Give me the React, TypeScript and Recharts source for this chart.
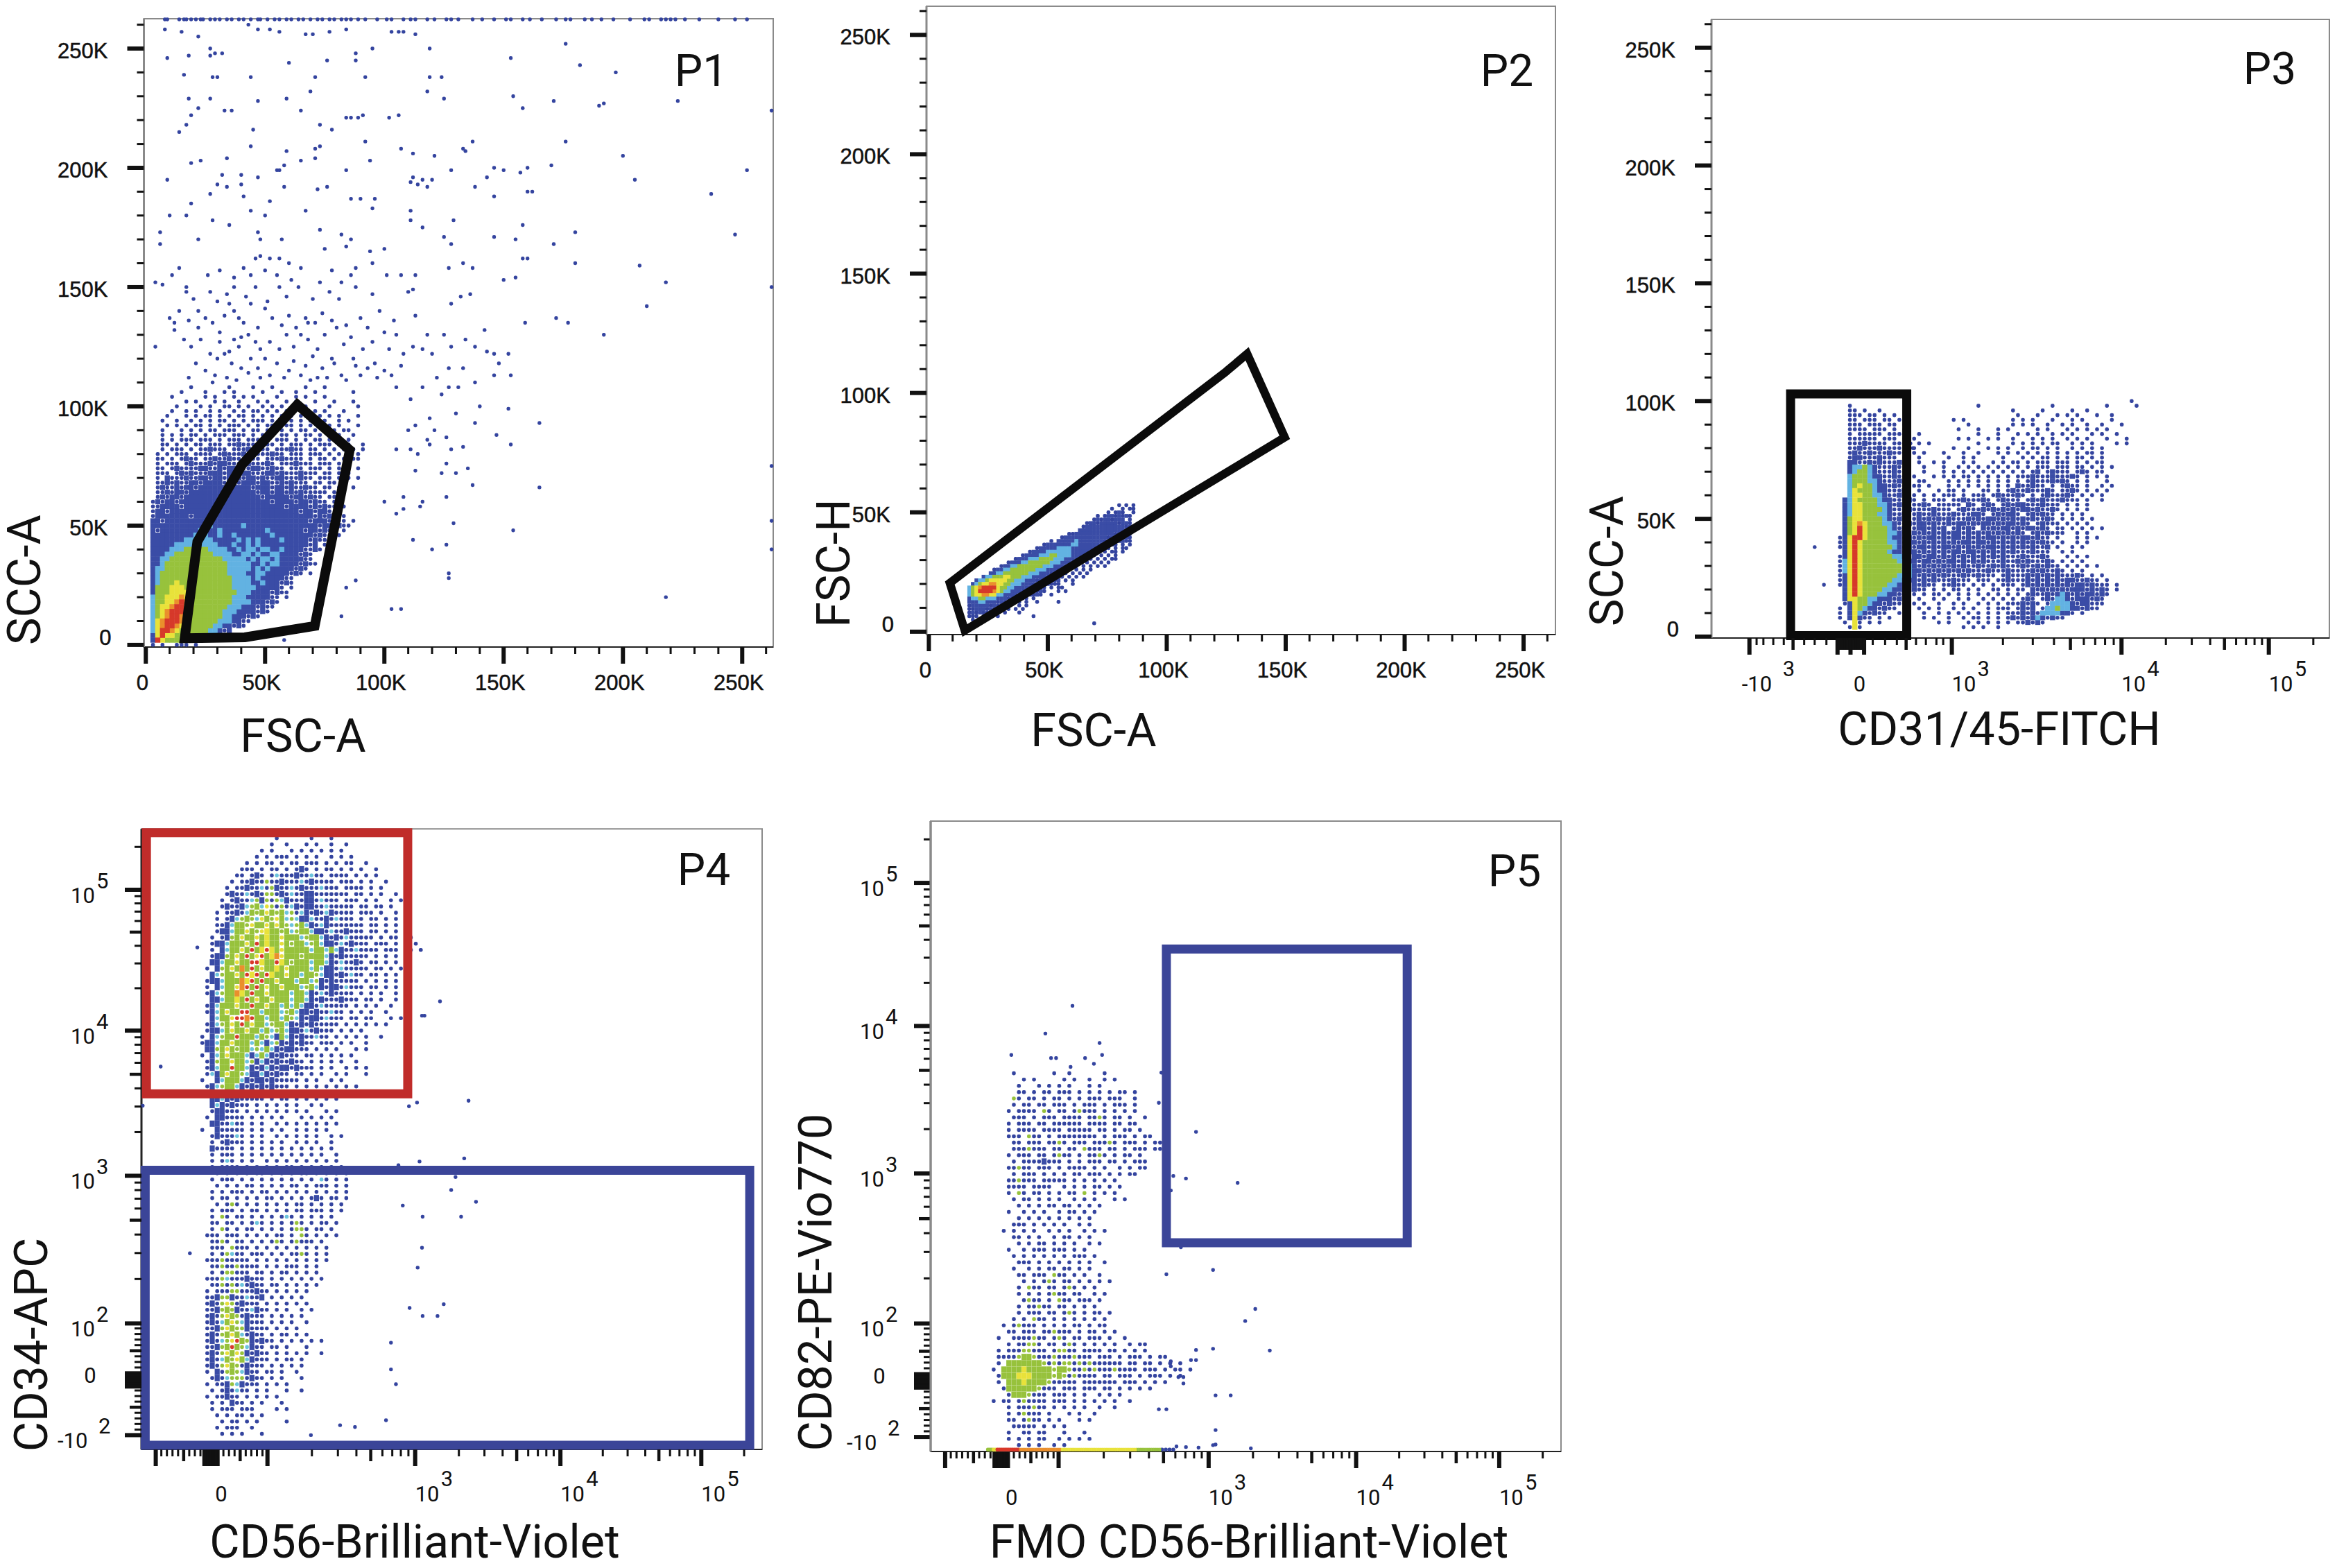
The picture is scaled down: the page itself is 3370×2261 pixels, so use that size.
/* ==========================================================================
   Flow cytometry gating panels P1 - P5
   Density rows are read off the picture: each character is one bin of the plot
   ':' c g y r = single events, B L G Y O R = filled density bins
   ========================================================================== */

import React from 'react';
import { ScatterChart, Scatter, XAxis, YAxis, ReferenceArea } from 'recharts';

const PAGE_W = 3370;
const PAGE_H = 2261;

const LEVELS: Record<string, { color: string; filled: boolean }> = {
  ':': { color: '#34449f', filled: false },
  c: { color: '#6cc3dc', filled: false },
  g: { color: '#97c23c', filled: false },
  y: { color: '#e6de3a', filled: false },
  r: { color: '#d8382a', filled: false },
  B: { color: '#3a4ca6', filled: true },
  L: { color: '#62b2e2', filled: true },
  G: { color: '#97c23c', filled: true },
  Y: { color: '#e8e23a', filled: true },
  O: { color: '#ea8f2c', filled: true },
  R: { color: '#d6392a', filled: true },
};

/* --- P1: FSC-A / SCC-A (K), x = 1 + 2j, first row y = 108, step 2 --------- */
const p1Rows = [
  '.........:.......:....:...:......:...:.....',
  '.......:....:...:.:.....:...:..:...:.......:',
  '.....:......:.:...:.:.:....:...:.:...:.....',
  '........:.:...:.:..:...:.:...:.:...:...:...:',
  '......:....:.:..::.:.:..:.:.:..:.:....:.....:',
  '.....:..:.:..:.:..:.:.::.:.:.::.:..:.:...:..',
  '....:...:.:.::.:.:.::.:.:.:.:.:.::..:.:.:...:',
  '...:..:..:.:.:.::.:.:.:::.:.:.:.:.:..:..:.:.',
  '....:.:.:.::.:.:.:::.:.:.::.:::.:.:.:.:.:...:',
  '...:...:.:.:.::.:::.:.::.::.:.:.::.:.:.:.::.',
  '...:.:.:.::.:.:::.:::.:.:::.::.:.::.:.:.:..:',
  '...:.:.:::.:::.:.:::.:::.:.:::.:.:.::.:.:.:.',
  '...::.:.:.::.:::.::B:::.:::.:.:::.:.:::.:.:..:',
  '...:.:::.:.::B:::.:::B:.::.:::B::.::.:.:.:.:.:',
  '..:.:.:::.::::.:B:::B:.:::B::.:::.:::.:.:.:.:',
  '..::.:.:B::.::B::B:::B::.:::B::::.:.::.:.:.::',
  '..:.:::.:B:::B:BB:::BB:::B:.:::B:::.:::.:.:.',
  '..::.:B::::BB::B:BB:::BB::B::.:::.:::.:.:.:.:',
  '..:::.:B:B:::BBB:BB:BB:::BB:B:::B:::.::.:.:.',
  '..:.B:::B::BB:BB:BBB:BB:B::BB:::B::.:::.:.:.:',
  '..::B:B::BB:BBBB:BB:BBB:BB::B:B:::.::.::.:.',
  '..:B::B:BB:BBBBBB:BBBB:BBB:BB:B::B::.::.:..:',
  '..::B:BB:BBBBBBBBBBBBBB:BB:BB:B:B:::::.:.:',
  '..:B:BB:BBBBBBBBBBBBBBBB:BBBBB:BB:B::.:::.',
  '.:B:BB:BBBBBBBBBBBBBBBBBBB:BBBB:BB:B::.:.',
  '.::BBBB:BBBBBBBBBBBBBBBBBBBBB:BBBB:B:B::.:',
  '.:BB:BBBBBBBBBBBBBBBBBBBBBBBBBBB:BB:BB:.:',
  '.:BBBBBBB:BBBBBBBBBBBBBBBBBBBBBBBBB:B:B:.:',
  '.BB:BBBBBBBBBBBBBBBBBBBBBBBBBBBBBB:BBB:B::.:',
  '.BBBBBBBBBBBBLBBBBBBLBBBBBBBBBBBBBBB:BB:B::',
  '.B:BBBBBBBBLBBBLBBBBBBBBBLBBBBBBB:BB:B::.:',
  '.BBBBBBBBBLLLBBLBBLBBBBBBBLBBBBBBBB:B::.:',
  '.BBBBBBBLLLLLLBBBBBLBLBLBBBBLBBBBB:B::.',
  '.BBBBBLLLLLLLLLBBBLBBLBLBBBBBBBBBB:B.:',
  '.BBBBLLLGGGGGLLLLBBLBLLBLLBBLBBBB::B:',
  '.BBBLLGGGGGGGGLLLLBBLLBLBBLLBBBB:B:',
  '.BBLLGGGGGGGGGGGLLLLLBLBLLBLBBBBB::.',
  '.BBLGGGGGGGGGGGGGLLLLLBBLBLLBBBB:B::',
  '.BLLGGGGGGGGGGGGGLLLLLBLBLBBBBB:B:.',
  '.BLGGGGGGGGGGGGGGLLLLBBLLBBBBB:B:.:',
  '.BLGGGGGGGGGGGGGGGLLLLBLBBBBB::.',
  '.BLGGGYGGGGGGGGGGGLLLLBBLBBB:B:.',
  '.BGGGYYYGGGGGGGGGGLLLLLBBBBB:.:',
  '.BGGGYYYYGGGGGGGGGGLLLBBBB:B::.',
  '.LGGYYYOYGGGGGGGGGLLLBBBBB::.:',
  '.LGGYYOROYGGGGGGGGLLLLBBB:B:.',
  '.LGYYORRYYGGGGGGGLLLBBB:B::',
  '.LGYORRRYGGGGGGGLLLBBBB:B:.',
  '.LGYORROYGGGGGGGLLBBB:B:',
  '.LYORRROYGGGGGGLLLBB::.',
  '.LYORROYGGGGGGLLBB:B:',
  '.LYRROYGGGGGGLLB:B',
  '.BYRYYGGGGGLLB:B:',
  '.BRYGGGGLLBB:',
  '.:.:..:::.:',
];

const p1Sparse = [
  [8,258],[15,257],[22,255],[43,260],[47,258],[52,258],[56,257],[67,256],[70,256],[77,257],[84,258],[103,257],[106,257],[108,257],[113,256],
  [18,247],[9,246],[27,250],[27,247],[29,248],[32,248],[60,244],[76,245],[88,248],[88,245],[95,250],[119,250],[176,252],[153,246],[182,243],[197,240],
  [16,239],[28,238],[30,238],[44,238],[71,238],[92,238],[119,238],[124,238],[69,232],[118,232],[18,229],[27,229],[47,228],[59,229],[125,229],[154,230],[171,228],[190,226],[192,227],[223,228],
  [22,225],[19,222],[33,224],[36,224],[65,224],[158,225],[84,221],[86,221],[89,221],[91,222],[102,221],[106,222],[14,215],[17,218],[45,216],[73,218],[78,216],[92,211],[176,211],[133,208],[137,211],
  [44,209],[59,207],[71,208],[73,209],[71,204],[107,208],[112,206],[121,205],[200,205],[19,202],[23,203],[34,204],[65,203],[94,203],[134,207],[58,201],[55,199],[56,199],[84,199],[128,199],[150,199],[146,200],[157,198],[160,200],[170,201],[252,199],
  [9,195],[32,197],[40,197],[47,196],[112,196],[116,195],[120,195],[143,196],[205,195],[30,193],[34,192],[40,193],[58,192],[72,191],[76,192],[111,194],[114,193],[118,192],[138,192],[160,190],[162,190],[237,189],
  [27,189],[41,188],[52,186],[86,187],[90,187],[96,187],[146,188],[19,185],[10,180],[17,180],[44,182],[50,180],[67,182],[95,183],[111,182],[28,178],[111,178],[129,178],[158,176],[180,173],[116,175],[35,176],[47,173],[57,170],[73,174],[82,172],
  [22,170],[48,170],[86,170],[6,173],[125,171],[146,171],[155,170],[247,172],[6,168],[84,167],[94,165],[171,168],[128,168],[100,166],[52,162],[46,162],[48,163],[56,162],[60,160],[75,166],[95,160],[133,160],[158,162],[160,162],[180,160],[207,159],
  [14,158],[88,158],[127,158],[101,155],[137,158],[4,152],[37,154],[11,155],[7,151],[55,155],[73,152],[86,155],[107,155],[113,155],[150,153],[155,154],[218,152],[17,150],[17,148],[37,150],[56,150],[95,147],[110,148],[112,149],[132,146],[136,147],[210,142],
  [14,140],[22,140],[35,143],[10,137],[12,135],[25,137],[33,138],[41,135],[67,137],[68,135],[47,133],[53,137],[172,137],[177,135],[159,135],[142,132],[128,143],[134,128],[192,130],[16,128],[37,128],[40,129],[46,127],[65,130],[80,133],[100,131],[105,130],[118,130],[125,130],[116,124],[138,125],[128,125],[4,125],
  [143,123],[146,122],[152,122],[30,120],[33,122],[50,120],[70,121],[78,120],[87,120],[112,125],[120,122],[88,117],[96,118],[127,116],[133,116],[148,118],[25,115],[40,116],[60,115],[72,112],[82,113],[103,113],[122,112],[146,113],[153,113],[34,112],[48,112],
  [116,108],[127,108],[131,108],[138,110],[124,105],[111,103],[105,108],[152,99],[140,100],[130,97],[119,95],[113,92],[121,90],[138,93],[165,93],[147,88],[153,84],[126,87],[119,84],[110,90],[118,86],[128,82],[133,83],[111,82],[114,80],[105,82],
  [126,76],[130,72],[135,74],[113,73],[124,72],[137,67],[165,66],[126,62],[108,62],[100,60],[108,57],[116,60],[105,55],[115,58],[129,51],[154,48],[112,44],[126,42],[127,28],[127,30],[218,20],[107,15],[103,15],[120,40],[88,27],[84,24],[82,12],
  [262.3,224],[262.3,150],[262.3,75],[262.3,52],[262.3,40],[58,2],
  [18,112],[21,118],[28,110],[29,113],[36,118],[38,111],[43,114],[44,120],[47,116],[52,113],[55,118],[58,112],[62,119],[65,113],[67,117],[69,111],[74,116],[76,112],[79,118],[84,111],[90,113],[93,116],[97,112],[100,115],[107,117],[19,125],[23,128],[27,122],[31,127],[35,123],[39,125],[43,130],[48,124],[52,127],[56,124],[59,130],[62,125],[68,128],[72,124],[75,130],[83,126],[86,129],[91,124],[95,127],[102,124],[108,122],
  [12,132],[18,136],[22,133],[28,135],[31,131],[37,140],[39,137],[44,143],[50,141],[57,134],[60,138],[63,133],[71,135],[74,139],[78,136],[84,134],[90,137],[93,133],[98,140],[104,136],[113,138],[20,145],[27,148],[30,144],[34,147],[42,146],[46,150],[51,144],[59,146],[64,150],[70,145],[77,148],[81,145],[88,150],[26,155],[31,157],[41,158],[44,155],[50,157],[61,153],[65,158],[78,157],[82,152],
];

const p1TopEdge = [8,9,14,16,17,19,21,23,24,27,29,31,34,36,39,41,44,47,48,51,54,56,59,61,64,66,69,72,74,77,79,82,84,86,89,92,97,101,103,108,111,113,118,121,126,128,131,137,141,146,151,153,158,161,166,172,176,178,184,187,191,196,203,209,211,216,218,220,222,226,232,240,247,252];

/* --- P2: FSC-A / FSC-H (K), x = 14 + 1.5j, first row y = 53, step 1.5 ------ */
const p2Rows = [
  '............................................:.:.:',
  '..........................................:..:.::',
  '.........................................:.:B:..:',
  '......................................:.:BB:B:B:.',
  '.....................................:B:BB:BBB.:.',
  '...................................:BB:BBBBB:BB:',
  '..................................:BBBBBBBBBBB:B',
  '.................................BBBBBBBBBBBBB:B:',
  '..............................::BBBBBBBBBBB:BBB:',
  '............................:BBBBBBBBBBBB:BBB:B:',
  '.........................:.BBBBBLBBBBBBB:BB:BB::',
  '.......................:BBBBBBBLLBBBBBB:.BB:.:.:',
  '.....................:BBBBBLLLLBBBBBBB:BB:.:.::',
  '...................:BBBBLLLLLLLBBBBB:B:.:.::.:',
  '.................:BBBBLLLGGLLLLBBBB:B:.:.:.:.',
  '...............:BBBLLLGGGGLLLBBBB:B::.:.:.::',
  '.............:BBBLLGGGGGGLLLBBB:B:.:.:.:.:',
  '...........:BBLLGGGGGGGLLLBBB:B::.:.:.:.:',
  '.........:BBLLGGGGGGGLLLBBB:B::.:.:.:',
  '........BBLLGGGGGGGLLLBBB:B:B:.:.:.:',
  '......BLLGGGYYGGGLLLBBBB:BB::.:.:.:',
  '....BLLGYYYYYGGLLLBBB:B:BB:B.:.:',
  '...BLGYYOOYYGGLLLBBB:BB:B:::...:',
  '..LGYORRRRYGGLLBBBB:B:B:.:.::',
  '..LGYRRRROYGLLBBB:B:B:B:...:.:',
  '..LGYYOOYYLLBBBB:B:B:B:..:..',
  '..BLLGGLLLBBB:B:B::.:...',
  '..BBBLLBBB:B:B:.:.:..:.....:.',
  '..:BBBBB:B:B::..:.:',
  '..::BBB:B:.:.:.:.:....',
  '..:B:B::.:..:...:',
  '..:::.:.:.:.........:',
  '...:.:.',
  '.....................................:',
];

/* --- P3: CD31/45 channel / SCC-A (K), x = 200 + 8j, first row y = 100, step 2 */
const p3Rows = [
  '............................................................:',
  '...:.........................:..............:..........:.....:',
  '...::.:..:..........................:.....:.....:..:',
  '...:::.::.:.:........................:...:...:.:.:...:..:',
  '...::.:::.::.:..........:.:.........:.:.:...:...:.:.....:',
  '...:::.:::.::.:............:........:.:.:..:..:.:..:..:...:',
  '...::::.:::.:.::.........:...:...:.:.....:.:...:.:.:.:.:',
  '...:.:::::.:::::.:...........:...:...:.:.:..:.:.:...:.:..:',
  '...::::::.:::.:::........:.:...:.:..:...:.:.:..:.:.:...:...:',
  '...:::B::::.::::.:.:.........:......:.:.:.:.::..:.:.:....:.:',
  '...::B:::B::::.::.......:..:...:.:.:..:.::.:.:..:.:.:.:...',
  '...:B::B:::B:::::.:...:...:..:...:.:.:.:.:.:.:.:.:.::.:',
  '...:BB:::B:::.::.:.....:..:.:.....:...:.:.::.:.:.::.:.:.',
  '...BB::B:B:::B::.:..:.:...:.:...:.:.::.:.:::.:::.:.:.::',
  '...BLLGLB:::B:.:..:...:..:.:.:.:.:.:.:.:.:::.:::.::.:.:.:',
  '...BLGGLB:::B:.:..:...:.:.:.:.:.:.:.:.:.:B.:B:::.:B:.::',
  '...LGGGLBB::B::.:...:.:.:.::.:.:.:.:.:::B:::B:::B:.:.:.:',
  '...LGGGLLB:::B:..::....:.:.:.:.:.:.:.:.:B:::B:B:.:.:...:',
  '...LGYGGLBB:B:::::.:...:.:.:.:.:.:.:.B::B::.:.:B::.:..:.:',
  '...LYGGGLBB:::B:.:...:.::.:...::.:.:B::B:::B:.::B:.:.:.:',
  '...LYYGGLLB::B:::.:.:.:::.:.:::.:B:::B:.:.:B:::B:.:.:.:',
  '..BLYGGGGLBB:::B:.:.:::.::B:::B:.:B:::.:B:B:::B:::.:..:',
  '..BLYYGGGLLB:B::::B:.:::::.B:.:B:.:B:BB:::B:::.:.:.:',
  '..BLYYGGGGLB:::B::::B:::.:B:::B:B:B:B:BB:B::B:.:.:.:',
  '..BLYYGGGLLB::B::B::B:::B:::BB:.:B:BB:.:B:B::.:.:.:',
  '..BGYYGGGGLB:B:::B:B:B:B:::B:B:BB:B:B:B:B::B:.:.:.:.:',
  '..BGYOYGGGLLB::B:BB:B::B:BB:B:BB:B:BB:B:.:B:::.:.:.:.',
  '..BGYRYGGGGLB:B::BB:B:B.:B:B:.B:B:BB:B:BB:B:.::.:.:.:.:',
  '..BGYRYGGGGLLB::B:B:B:B:BB:B:B:B:B:B:B:.:B:B:::..:.:.',
  '.:BYRRYGGGGLBB:B:B:BB:B:BB:B:B:BB:B:B:BB:B::.:...:.:.:',
  '.:BYRYGGGGGLLB:BB:B:B:B:B:BB:BB:B:B:B:B:B:B::.:..:.:.',
  '.:BYRYGGGGGGLB:B:BB:B:BB:B:B:B:BB:B:B:B:B::B.:..:.:',
  '..BYRYGGGGGLBB:BB:B:B:B:BB:BB:B:B:B:B:::B:::..:.:.',
  '.:BYRYGGGGGGLLB:BB:BB:B:B:B:B:B:B:B:::B:::B:...:.:.:',
  '.:LYRYGGGGGGGLLBB:BB:B:BB:B:B:B:::B::B:B:::B:.:.:.:',
  '.:LYRYGGGGGGGGLLB:B:B:B:B:B::B::B:B:::B::B:B::.:.:.:.:',
  '.:LYRYGGGGGGGGLLBB:B:B:B:B:B:::B:::B::::B:B::B:.:.:.',
  '.:BYRYGGGGGGGLLLB:B:B:B:::B::B:::.:B:::B:B:B:B:::B:.:.:',
  '.:BYRYGGGGGGLLBBB:B:B:::B:::.:::.::B:::B:B:B:B:BB::B::.:.',
  '.:BYRYGGGGGLLBB:B:B::.::B::.:.:.:.:::.:B:B:B:B:B:BB:B:::.:.',
  '..BYRYGGGGLLBBB:B::.:.:.::.:.:..::.:.::.B:B:B:B:BBB:B:B:.:',
  '..BYRYGGGLLBB:B::.:.::.:.:.:.:.:.:.:.:.:B::B:BLB:B:BB:B:.',
  '..BYYGGLLBBB:B::.:..:.:..:.:..:.:.:.:.:B:.:B:LLB:BBB:B:.',
  '..:BYGGLBB:B:::.:.:..:..:.:..:.:.:.:::B:B:.:LLLLB:BB:::',
  '.:.BYGLBB:B::.:..:.:.:..:.:.:..:.:::.:B:B.:LLGLLBB:B::',
  '.:.BYLB:B::..:....:..:.:.:.:.:.:.:.:::B:B:LLLLBB:.:',
  '.:.BYB::.:.:......:.:..:..:.::.:.:.:B:B:BLB:B::',
  '..:.Y:.:.:...........:.:...:.:.:.:.:.::B:B:.',
  '...:Y:....................:.:.:..:.',
];
const p3Sparse = [[167,38],[182,22],[318,95],[316,90],[322,82],[326,80]];

/* --- P4: CD56 / CD34 channels, x = 90 + 8j, first row y = 985, step 10 ---- */
const p4Rows = [
  '................:......:...:',
  '...............:..:...:.:..:..:',
  '.............:.:...:.:.:.:.:.:',
  '............:.:.:::.:.:.:..:.:.:',
  '..........:.:.::.:.::.:::.:.:.::..:',
  '.........:::.:.::.:.:B:.:.::.:.:.:..:',
  '........::.:B:.:c:::B::c::.::::.:.:.:',
  '.......:.::B::g::B:::c:B::::.:::.:.:..:',
  '......:.::B::c:gB::c:B:::c:::.::::.:.:.',
  '......:B::c:B:gg:B:c::BB:::::::.::.:.:..:',
  '.....:.:B::cgBg:gcB:::BB:c:::.:::.:.:..:.:',
  '.....:B::BcgGcyg:g:cB:BB::c:::::.::.::.:',
  '....:.::B:cGgGyGgGcg:cB:B:cB::::.:::.:..:',
  '....:.:BcgGgcyGgyGcgcBBc::B:c:::.:.::.:.:.:',
  '....::BcGGgyGGyGyGgcgGcB:cB:::::::.::.:.:',
  '....:BBcGGyGgyYGGgGcgGGcBB:c::B:::.::.:.:.:',
  '...:.:BgGyGGyGYGGyGGGcgGGcB:B:c:::::.:.::..:',
  '...:BBcGGGyGrGYGGyGgGGcgGcBB:c:B:::.:::.:.:.:.',
  '...:.BcGGyGrGYrYGyGGGGGcGGcGcB::c::::.:::.::.:',
  '...:BBgGyGrGyrGYOyGGGgGGGGcB:B:::::.:.:.:.:.',
  '...BBcGGyGGrrYGGrYGgGGGcGGcB:c::B:.::.:.:.:',
  '..:.BgGyGOGrGyGGYGyGGGGcGcBB:c:::::.::.:.:',
  '...BcgGGyGrYrGrYGGyGGcGGgcBB:B:c::.::.:.:.:',
  '..:BBcGGGOYrGrGGyGGGcGGcgB:B:::::.:.:.:.:',
  '..:.BcGGyOrGrGyGGyGGGcgGcB:BB:c:::.::.:.:.',
  '..:BcgGGOYGrGGyGGGGcGGcB:c:B::::.:.:.:..:',
  '...BBcGGYGrGyGGyGGGcGGcB:B:::B:::.::.:..:',
  '..:BcGGGyGGrGGyGGcGcGcBB:c:::::.:.:.:..:',
  '..:BcGyGGrrGGcGGGcgGcBB:B::c::.:.:.:..:',
  '...BcGGyrrOrGGcGGcGgcB:BB:c:::.::.::...:.:',
  '..:BcgGyGrGyGGcgGGcB:B:B:::::.:.:.:.:.:',
  '..:BBcGyGGyGGcGcgGcBB:c:B:::.:.:.:..',
  '.:.BcgGGrGGGcGgcBGcB:B::c::.:.:.:.:..:',
  '.:BBcGGyGGGcGcBcgB:B:B::.:::.:.:..:',
  '..BBgGyGgGGcgcGcB:BB:::.:.:.:...:.:',
  '.:.BcGyGGGcBcGcB:B:::.::.:.:.:.:.',
  '..:BgGGyGGcgBcB:B::B::.:.:.:.:..:',
  '..:BcGGrGGcB:BcB:BB:B:::.:.:..:.:.:',
  '..:cBGyGGgcBBcB:B::.::.:.:..:.:...:',
  '.:..BcGGGcB:BB:B:::::.:.:..:.:..',
  '..:BcgGGcB:B:B:B:::.:.:.:.:.:.:.:',
  '..:cBcGgB:BB:B:::.:.:.:.:...:.:',
  '...BBcB:B:::::.:.::.:.:.:.:.:',
  '...BcB:B:::.:.:.:.:.:..:.:.',
  '...:BB:::.:.:.:.:.:.:.:...:.:',
  '..:.BB::::.:.:.:.:...:.:.:.:..',
  '...BB::c::.:.:..:.:.:.:.:.:.:.',
  '.:..B:::::.:.:.:.:..:.:.:.:.',
  '...:B:::c:.:.:..:.:.:.:.:..:.:',
  '...:.:B:::.:.:.:.:..:.:.:..:',
  '...B::::.:.:.:.:.:.:.:.:.:.:',
  '...:.:::.:.:.:.:.:.:.:.:.:..:',
  '...:.:c:.:.:..:.:.:.:.:.:.:.:',
  '...:.::::.:.:.:.:.::.:.:.:.:.:',
  '....:.:.:.:.::.:.:.:.::.:.:.:.:',
  '...:.:::.:.:.:.:.:.:.:.:.c:.:.:',
  '....:.:.:.::.:.:.:.::.:.:::.:.:',
  '...:.:.:::.:.::.:.:.:.:.:.:.:.:',
  '...:.::.:.:.:.::.:.:.:.:B:.::.:',
  '....:.:g:.:.:.:.:.:.::.:.:.:.:',
  '...:.:::.:.::.:.:.:.::.:::.:.:',
  '...:.g:.::.:.:.:.:c:.:.:.:.:.',
  '...::.::.:.:c:.:.:.:g:.:.::.:',
  '...:.g:.:.::.:.:.:.:gg:.::.:',
  '..:::.:::.:.:.:.::.:.g:.:.:.:',
  '...::g:.::.:.:.:g:.:g:::.:',
  '...:::.g:::.:.:.:.:.:.:.:.:',
  '...:.:gc::.:::.:.:.::g:.:.:',
  '..:::g:::::.:.:.:.:.:.:.:.:',
  '...::g::g::::.:.:.:::.:.:',
  '...:.:gg:::.::.:.::.:.:.:',
  '..:::gc:::B:::.:.:.:.:.:.:',
  '...::g:g:c:B::.::.:.:.:.:',
  '..:.:::gg:::B::.:.:.:.:',
  '..::BggB::c::B.:.:.:.:.',
  '..:B:gyg:B:::.:.:.:.:.:',
  '..::BgGgB::cB::.:.:..:.:',
  '..:B:gyGg:B:::.:.:.:.:',
  '..:B:cGygcB:::.:.:.:..:',
  '..::BgyGggB::::.:.:.:',
  '..:B:gGyGc:B::.:.::.:.:',
  '..:B:cgyrGgB:B::.:.:.:.:.:',
  '..::BgGrGgcB::.::.:...:',
  '..:B:gyGygB:B::.:.:.:.:..:',
  '..:B:cGgyGcB:::.:.::.:',
  '..:B:gyGg:B:::.:.:.:.:',
  '..:.B:gGgcB::.::.:..:',
  '...:B:cggg:B::.:.:...:',
  '..:.::BgcB:::.:.:.:',
  '...:.:B:c::.:.:...:..:',
  '..:.::B::.:.:.:.:',
  '...:.:.B::.:.:...:',
  '...:.:::.:::....:.:',
  '....:.:.::.:.:...',
  '.....:.::.:.:.....:',
  '....:.:::..:...',
  '.....:.:.:...:',
];
const p4Sparse = [[481,722],[456,699],[452,699],[90,809],[31,617],[527,562],[444,559],[431,553],[520,469],[448,464],[414,458],[506,439],[499,418],[539,399],[515,375],[453,375],[421,393],[452,325],[445,293],[78,316],[487,234],[432,228],[453,215],[477,215],[402,172],[402,129],[410,105],[394,47],[344,36],[320,39],[273,23],[2,554]];

/* --- P5: FMO CD56 / CD82 channels, x = 100 + 8j, first row y = 600, step 10 */
const p5Rows = [
  '....:.......:..:......:',
  '......:.:.....:.:..:..:.:',
  '.....:...:.:.:.:...:.:',
  '.....::.:.::.:::.:.:.:.:.::.:',
  '....g:.::.:.::.:.:.:::.:::..:.',
  '....:.::.::.:::.:.:::.:.:::.:',
  '...:.::::.g:.::.:g:::.:.:.:.:',
  '....:::.:.:::.::::.::g:.::.:..:',
  '...:.:::.::.::::::.::::.::.::',
  '...:.::::.::::.:::::.::.:.::.:',
  '...:::.g::.:.::::::::.:.:::.:.::',
  '....::.:::.::g:.:::.:::g:.:::.:.::',
  '....:::g:::.::.::.g:::.::.:.:::.::',
  '...:.:::.::.:g::.:.::g:.:.::.:',
  '....:.::::B:::.:.:.:::.::.:.:::',
  '...::g::.:::.:.::::.:.:..:.:.::',
  '....:.:::.:.:.:.::.:::.:.:.::',
  '...::g:::.:::::.:.:.:.:.:',
  '...::::.::::..:.:.:.::.:.:',
  '...:.g:.::.:.:.::.g.:.:.:',
  '....:.::.:.:.:..:.:.:...:.:',
  '.....:.:.:.::.::.:.:.:.',
  '...:..:.:.:..:.::.:.:.',
  '.....:.:.:.:.:.:.:.:.',
  '....:::.:.:.:.:..:.:',
  '..:.:.:.:..:.:.:..:.:.:',
  '....::.:.:..:.::.:.:.',
  '.....:.:.::.:.:.:..:.:',
  '...:..:.:::.:::.:.:.',
  '....:.:.:.:.:.:.:::.:',
  '.....:::.:.:.:.:.:.:..:',
  '....:..:.:.::.::.:.:.',
  '.....::.:::.g::.:.:..:',
  '......:.:.:g:.::.:.:.:.:',
  '.....:.g::.::.:g:.:.:',
  '.....:.:.:.:g::.::..:.:',
  '......:g::.:.g::.:::.:',
  '.....:.::g::.::.:.:.:.',
  '.....:.:::.::.:g:.:.::.:',
  '....:.:.g::.:.:.:.:.:.:',
  '..:.:g:::.:.:.:.::.:.::',
  '...::.:::.::g:::.:.::.:.:.',
  '.:..::::g::.:g:.::.:::.:..:',
  '...:.::gg:.::.:g:.:.:.:.:..:.::',
  '.:.:::gg:::.:gg::.::::.::.:.:.:',
  '.::::gGGg:::g:::g:::.:::.:.:::.:.::',
  '.:.GGGGGGGg:g:gg:g:g::::::.::.::.:.:.:',
  ':.GGGGYGGGGGgGGg::g:g:::g::::.:::.:.::.:',
  '.:GGGYYYGGGGgGg:g::::.::.:::.:.:::.:.:',
  '.:.GGGYGGGGg:::::.:::::::.:::.:.:.:.',
  '..:GGGGGGg:::.:::.:::.::.:.:.:.:',
  '...:GGGg:::.:::.:.:..:.:.:',
  ':.::.:g::::.:::.:.:.:.:.:..:',
  '...:.:::g::.:.:.:.:..:..:',
  '...:.:g:::.:...:.:..:',
  '...::.:g::.:.:...:.:',
  '....:::::.:.:.:',
  '...:..::.::...:...:',
  '...:.:.:.::..:.:.:.:',
  '.....:.:.:..:.:.',
];
const p5Sparse = [[225,707],[182,663],[128,629],[268,648],[272,629],[191,624],[199,624],[245,624],[259,615],[222,610],[421,507],[487,426],[405,433],[385,437],[381,414],[397,324],[374,281],[448,288],[515,226],[499,207],[538,160],[448,163],[421,161],[413,145],[421,145],[381,143],[381,135],[393,118],[401,118],[401,108],[452,89],[476,89],[362,67],[374,67],[452,34],[452,11],[366,601],[362,553],[390,8],[405,7],[425,6],[448,10],[508,5]];
const p5EdgeRow = '.gggyyrrrrrrrrrrrrOOOOOOOOOOOOOOOOOOOOOOYYYYYYYYYYYYYYYYYYYYYYYYYYYYYYYYYYYYYYYYGGGGGGGGGGGGG:.:.:.:';

/* --- Gates --------------------------------------------------------------- */
const p1Gate = [[16.3,2.8],[41.5,3.2],[70.8,7.9],[85.5,81.7],[63.5,100.7],[40.4,75.6],[21.6,43.3]];
const p2Gate = [[8.8,20.4],[125,109],[133.8,116.4],[149.6,81.4],[15.1,0.5]];
const p3Gate = [[128,0.4],[316,0.4],[316,103],[128,103]];
const p4RedGate = [[8,573],[429,573],[429,994],[8,994]];
const p4BlueGate = [[6,6.7],[980,6.7],[980,450],[6,450]];
const p5Gate = [[374,331],[756,331],[756,797],[374,797]];

/* --- Axis ticks ---------------------------------------------------------- */
const linMajor = [0, 50, 100, 150, 200, 250];
const linMinor = [10, 20, 30, 40, 60, 70, 80, 90, 110, 120, 130, 140, 160, 170, 180, 190, 210, 220, 230, 240, 260];

const logStep = [0.301, 0.477, 0.602, 0.699, 0.778, 0.845, 0.903, 0.954];
const decade = (a: number, b: number) => logStep.map((s) => Math.round((a + (b - a) * s) * 10) / 10);

// P4 / P5 share one biexponential layout
const fmoD2 = decade(203, 441);
const fmoD3 = decade(441, 675);
const fmoD4 = decade(675, 902);
const fmoMajor = [23, 203, 441, 675, 902];
const fmoFine = [100, 102, 104, 106, 108, 110, 112, 114, 116, 118, 120, 122, 124];
const fmoMid = [68, 159, fmoD2[3], fmoD3[3], fmoD4[3]];
const fmoMinor = [32, 41, 50, 59, 77, 86, 95, 132, 141, 150, 168, 177, 186, 195, ...fmoD2, ...fmoD3, ...fmoD4, 971].filter((v) => !fmoMid.includes(v));
const fmoLabelsX: Record<number, [string, string]> = { 114: ['0', ''], 441: ['10', '3'], 675: ['10', '4'], 902: ['10', '5'] };
const fmoLabelsY: Record<number, [string, string]> = { 23: ['-10', '2'], 114: ['0', ''], 203: ['10', '2'], 441: ['10', '3'], 675: ['10', '4'], 902: ['10', '5'] };

const cdMajor = [61.4, 204, 225, 247, 389, 663.6, 902];
const cdFine = [207, 210, 213, 216, 219, 222, 228, 231, 234, 237, 240, 243];
const cdD3 = decade(389, 663.6);
const cdD4 = decade(663.6, 902);
const cdMid = [132, 315, cdD3[3], cdD4[3]];
const cdMinor = [73, 84, 100, 117, 150, 167, 186, 261, 281, 300, 331, 347, 364, 375, ...cdD3, ...cdD4, 974].filter((v) => !cdMid.includes(v));
const cdLabels: Record<number, [string, string]> = { 61.4: ['-10', '3'], 225: ['0', ''], 389: ['10', '3'], 663.6: ['10', '4'], 902: ['10', '5'] };

const TICK_COLOR = '#111';
const LIN_FONT = '"Liberation Sans", Arial, sans-serif';
const BIEX_FONT = 'Roboto, sans-serif';
const TITLE_FONT = 'Roboto, sans-serif';

type Pt = { x: number; y: number };

function expandRows(rows: string[], x0: number, dx: number, yTop: number, dy: number) {
  const out: Record<string, Pt[]> = {};
  rows.forEach((row, i) => {
    row.split('').forEach((ch, j) => {
      if (!LEVELS[ch]) return;
      (out[ch] = out[ch] || []).push({ x: x0 + j * dx, y: yTop - i * dy });
    });
  });
  return out;
}

const toPts = (list: number[][]): Pt[] => list.map(([x, y]) => ({ x, y }));
const closeGate = (list: number[][]) => toPts([...list, list[0], list[1]]);

function linTick(axis: 'x' | 'y', labelDy = 62) {
  return ({ x, y, payload }: any) => {
    const major = linMajor.includes(payload.value);
    const len = major ? 24 : 10;
    const w = major ? 6 : 3;
    const label = payload.value === 0 ? '0' : `${payload.value}K`;
    if (axis === 'x') {
      return (
        <g>
          <line x1={x} x2={x} y1={y} y2={y + len} stroke={TICK_COLOR} strokeWidth={w} />
          {major && (
            <text x={x - 5} y={y + labelDy} textAnchor="middle" fontFamily={LIN_FONT} fontSize={31} fill="#111" stroke="#111" strokeWidth={0.5}>
              {label}
            </text>
          )}
        </g>
      );
    }
    const zero = payload.value === 0;
    return (
      <g>
        <line x1={x - len} x2={x} y1={y} y2={y} stroke={TICK_COLOR} strokeWidth={w} />
        {major && (
          <text x={zero ? x - 47 : x - 52} y={zero ? y : y + 14} textAnchor="end" fontFamily={LIN_FONT} fontSize={31} fill="#111" stroke="#111" strokeWidth={0.5}>
            {label}
          </text>
        )}
      </g>
    );
  };
}

function biexTick(axis: 'x' | 'y', major: number[], fine: number[], mid: number[], labels: Record<number, [string, string]>, fineLen: number, labelDy = 76) {
  return ({ x, y, payload }: any) => {
    const v = payload.value;
    const isMajor = major.includes(v);
    const isFine = fine.includes(v);
    const isMid = mid.includes(v);
    const len = isMajor ? 24 : isFine ? fineLen : isMid ? 17 : 10;
    const w = isMajor ? 6 : isFine ? 3.5 : isMid ? 4.5 : 3;
    const lab = labels[v];
    const expDx = lab && lab[0] === '-10' ? 59 : 37;
    const font = { fontFamily: BIEX_FONT, fontSize: 31, fill: '#111' };
    if (axis === 'x') {
      return (
        <g>
          <line x1={x} x2={x} y1={y} y2={y + len} stroke={TICK_COLOR} strokeWidth={w} />
          {lab && lab[0] === '0' && <text x={x + 13} y={y + labelDy} textAnchor="middle" {...font}>0</text>}
          {lab && lab[0] !== '0' && (
            <g>
              <text x={lab[0] === '-10' ? x - 11 : x} y={y + labelDy} {...font}>{lab[0]}</text>
              <text x={(lab[0] === '-10' ? x - 11 : x) + expDx} y={y + labelDy - 22} {...font}>{lab[1]}</text>
            </g>
          )}
        </g>
      );
    }
    return (
      <g>
        <line x1={x - len} x2={x} y1={y} y2={y} stroke={TICK_COLOR} strokeWidth={w} />
        {lab && lab[0] === '0' && <text x={x - 74} y={y + 6} textAnchor="middle" {...font}>0</text>}
        {lab && lab[0] !== '0' && (
          <g>
            <text x={lab[0] === '-10' ? x - 121 : x - 102} y={y + 19} {...font}>{lab[0]}</text>
            <text x={(lab[0] === '-10' ? x - 121 : x - 102) + expDx} y={y - 2} {...font}>{lab[1]}</text>
          </g>
        )}
      </g>
    );
  };
}

const cellShape = (w: number, h: number, fill: string, round: number) => ({ cx, cy }: any) => (
  <rect x={cx - w / 2} y={cy - h / 2} width={w} height={h} rx={round} fill={fill} />
);
const noShape = () => null;

interface PanelProps {
  box: { left: number; right: number; top: number; bottom: number };
  xDomain: number[];
  yDomain: number[];
  xTicks: number[];
  yTicks: number[];
  xTick: any;
  yTick: any;
  layers: Record<string, Pt[]>;
  cellW: number;
  cellH: number;
  dots?: Pt[];
  gates: { pts: Pt[]; color: string; width: number }[];
  name: [string, number, number];
  xTitle: [string, number, number];
  yTitle: [string, number, number];
  leftLine?: string;
}

function Panel(p: PanelProps) {
  const { box } = p;
  const yW = 100;
  const xH = 50;
  return (
    <div style={{ position: 'absolute', left: 0, top: 0 }}>
      <ScatterChart
        width={PAGE_W}
        height={PAGE_H}
        margin={{ left: box.left - yW, right: PAGE_W - box.right, top: box.top, bottom: PAGE_H - box.bottom - xH }}
      >
        <XAxis type="number" dataKey="x" domain={p.xDomain} ticks={p.xTicks} interval={0} height={xH} tickSize={0} tickMargin={0} tick={p.xTick} axisLine={{ stroke: '#222', strokeWidth: 2 }} tickLine={false} />
        <YAxis type="number" dataKey="y" domain={p.yDomain} ticks={p.yTicks} interval={0} width={yW} tickSize={0} tickMargin={0} tick={p.yTick} axisLine={{ stroke: p.leftLine || '#8a8a8a', strokeWidth: 3 }} tickLine={false} />
        <ReferenceArea x1={p.xDomain[0]} x2={p.xDomain[1]} y1={p.yDomain[0]} y2={p.yDomain[1]} fill="none" stroke="#8a8a8a" strokeWidth={2} />
        {Object.keys(LEVELS)
          .filter((k) => p.layers[k])
          .map((k) => {
            const lv = LEVELS[k];
            const w = lv.filled ? p.cellW : 5.6;
            const h = lv.filled ? p.cellH : 5.6;
            return <Scatter key={k} data={p.layers[k]} shape={cellShape(w, h, lv.color, lv.filled ? 0 : 2.4)} isAnimationActive={false} />;
          })}
        {p.dots && <Scatter data={p.dots} shape={cellShape(5.4, 5.4, '#34449f', 2.4)} isAnimationActive={false} />}
        {p.gates.map((g, i) => (
          <Scatter key={`gate${i}`} data={g.pts} shape={noShape} line={{ stroke: g.color, strokeWidth: g.width, strokeLinejoin: 'miter', fill: 'none' }} isAnimationActive={false} />
        ))}
        <text x={p.name[1]} y={p.name[2]} textAnchor="middle" fontFamily={TITLE_FONT} fontSize={64} fill="#111">{p.name[0]}</text>
        <text x={p.xTitle[1]} y={p.xTitle[2]} textAnchor="middle" fontFamily={TITLE_FONT} fontSize={66.5} fill="#111">{p.xTitle[0]}</text>
        <text transform={`translate(${p.yTitle[1]} ${p.yTitle[2]}) rotate(-90)`} textAnchor="middle" fontFamily={TITLE_FONT} fontSize={66.5} fill="#111">{p.yTitle[0]}</text>
      </ScatterChart>
    </div>
  );
}

const linTicks = [...linMajor, ...linMinor].sort((a, b) => a - b);
const fmoTicks = [...fmoMajor, ...fmoFine, ...fmoMid, ...fmoMinor].sort((a, b) => a - b);
const cdTicks = [...cdMajor, ...cdFine, ...cdMid, ...cdMinor].sort((a, b) => a - b);

export default function App() {
  return (
    <div style={{ position: 'absolute', left: 0, top: 0, width: PAGE_W, height: PAGE_H, background: '#fff', overflow: 'hidden' }}>
      <Panel
        box={{ left: 207.5, right: 1115, top: 27, bottom: 933 }}
        xDomain={[-0.8, 263]}
        yDomain={[-0.9, 262.5]}
        xTicks={linTicks}
        yTicks={linTicks}
        xTick={linTick('x')}
        yTick={linTick('y')}
        layers={expandRows(p1Rows, 1, 2, 108, 2)}
        cellW={7.4}
        cellH={7.4}
        dots={[...toPts(p1Sparse), ...p1TopEdge.map((x) => ({ x, y: 262.2 }))]}
        gates={[{ pts: closeGate(p1Gate), color: '#0b0b0b', width: 14 }]}
        name={['P1', 1011, 124]}
        xTitle={['FSC-A', 437, 1084]}
        yTitle={['SCC-A', 58, 836]}
      />
      <Panel
        box={{ left: 1336, right: 2243, top: 9, bottom: 915 }}
        xDomain={[-1, 263.4]}
        yDomain={[-1.2, 262]}
        xTicks={linTicks}
        yTicks={linTicks}
        xTick={linTick('x')}
        yTick={linTick('y')}
        layers={expandRows(p2Rows, 14, 1.5, 53, 1.5)}
        cellW={5.6}
        cellH={5.6}
        gates={[{ pts: closeGate(p2Gate), color: '#0b0b0b', width: 12 }]}
        name={['P2', 2173, 124]}
        xTitle={['FSC-A', 1577, 1076]}
        yTitle={['FSC-H', 1225, 812]}
      />
      <Panel
        box={{ left: 2468, right: 3359, top: 28, bottom: 920 }}
        xDomain={[0, 1000]}
        yDomain={[-0.6, 262]}
        xTicks={cdTicks}
        yTicks={linTicks}
        xTick={biexTick('x', cdMajor, cdFine, cdMid, cdLabels, 17, 77)}
        yTick={linTick('y')}
        layers={expandRows(p3Rows, 200, 8, 100, 2)}
        cellW={7.5}
        cellH={7.1}
        dots={toPts(p3Sparse)}
        gates={[{ pts: closeGate(p3Gate), color: '#0b0b0b', width: 13 }]}
        name={['P3', 3273, 121]}
        xTitle={['CD31/45-FITCH', 2883, 1074]}
        yTitle={['SCC-A', 2340, 809]}
      />
      <Panel
        box={{ left: 204, right: 1099, top: 1195.3, bottom: 2090 }}
        xDomain={[0, 1000]}
        yDomain={[0, 1000]}
        xTicks={fmoTicks}
        yTicks={fmoTicks}
        xTick={biexTick('x', fmoMajor, fmoFine, fmoMid, fmoLabelsX, 24, 75)}
        yTick={biexTick('y', fmoMajor, fmoFine, fmoMid, fmoLabelsY, 24)}
        layers={expandRows(p4Rows, 90, 8, 985, 10)}
        cellW={7.2}
        cellH={9}
        dots={toPts(p4Sparse)}
        gates={[
          { pts: closeGate(p4RedGate), color: '#c02c2a', width: 13 },
          { pts: closeGate(p4BlueGate), color: '#3b4598', width: 13 },
        ]}
        name={['P4', 1015, 1276]}
        xTitle={['CD56-Brilliant-Violet', 598, 2246]}
        yTitle={['CD34-APC', 68, 1939]}
        leftLine="#222"
      />
      <Panel
        box={{ left: 1342, right: 2251, top: 1184, bottom: 2093 }}
        xDomain={[0, 1000]}
        yDomain={[0, 1000]}
        xTicks={fmoTicks}
        yTicks={fmoTicks}
        xTick={biexTick('x', fmoMajor, fmoFine, fmoMid, fmoLabelsX, 24, 77)}
        yTick={biexTick('y', fmoMajor, fmoFine, fmoMid, fmoLabelsY, 24)}
        layers={expandRows(p5Rows, 100, 8, 600, 10)}
        cellW={7.2}
        cellH={9}
        dots={[...toPts(p5Sparse)]}
        gates={[{ pts: closeGate(p5Gate), color: '#3b4598', width: 13 }]}
        name={['P5', 2184, 1278]}
        xTitle={['FMO CD56-Brilliant-Violet', 1801, 2246]}
        yTitle={['CD82-PE-Vio770', 1199, 1849]}
      />
      <Panel
        box={{ left: 1342, right: 2251, top: 1184, bottom: 2093 }}
        xDomain={[0, 1000]}
        yDomain={[0, 1000]}
        xTicks={[]}
        yTicks={[]}
        xTick={false}
        yTick={false}
        layers={expandRows([p5EdgeRow], 88, 3, 3, 1)}
        cellW={3.2}
        cellH={5}
        gates={[]}
        name={['', 0, 0]}
        xTitle={['', 0, 0]}
        yTitle={['', 0, 0]}
      />
    </div>
  );
}
